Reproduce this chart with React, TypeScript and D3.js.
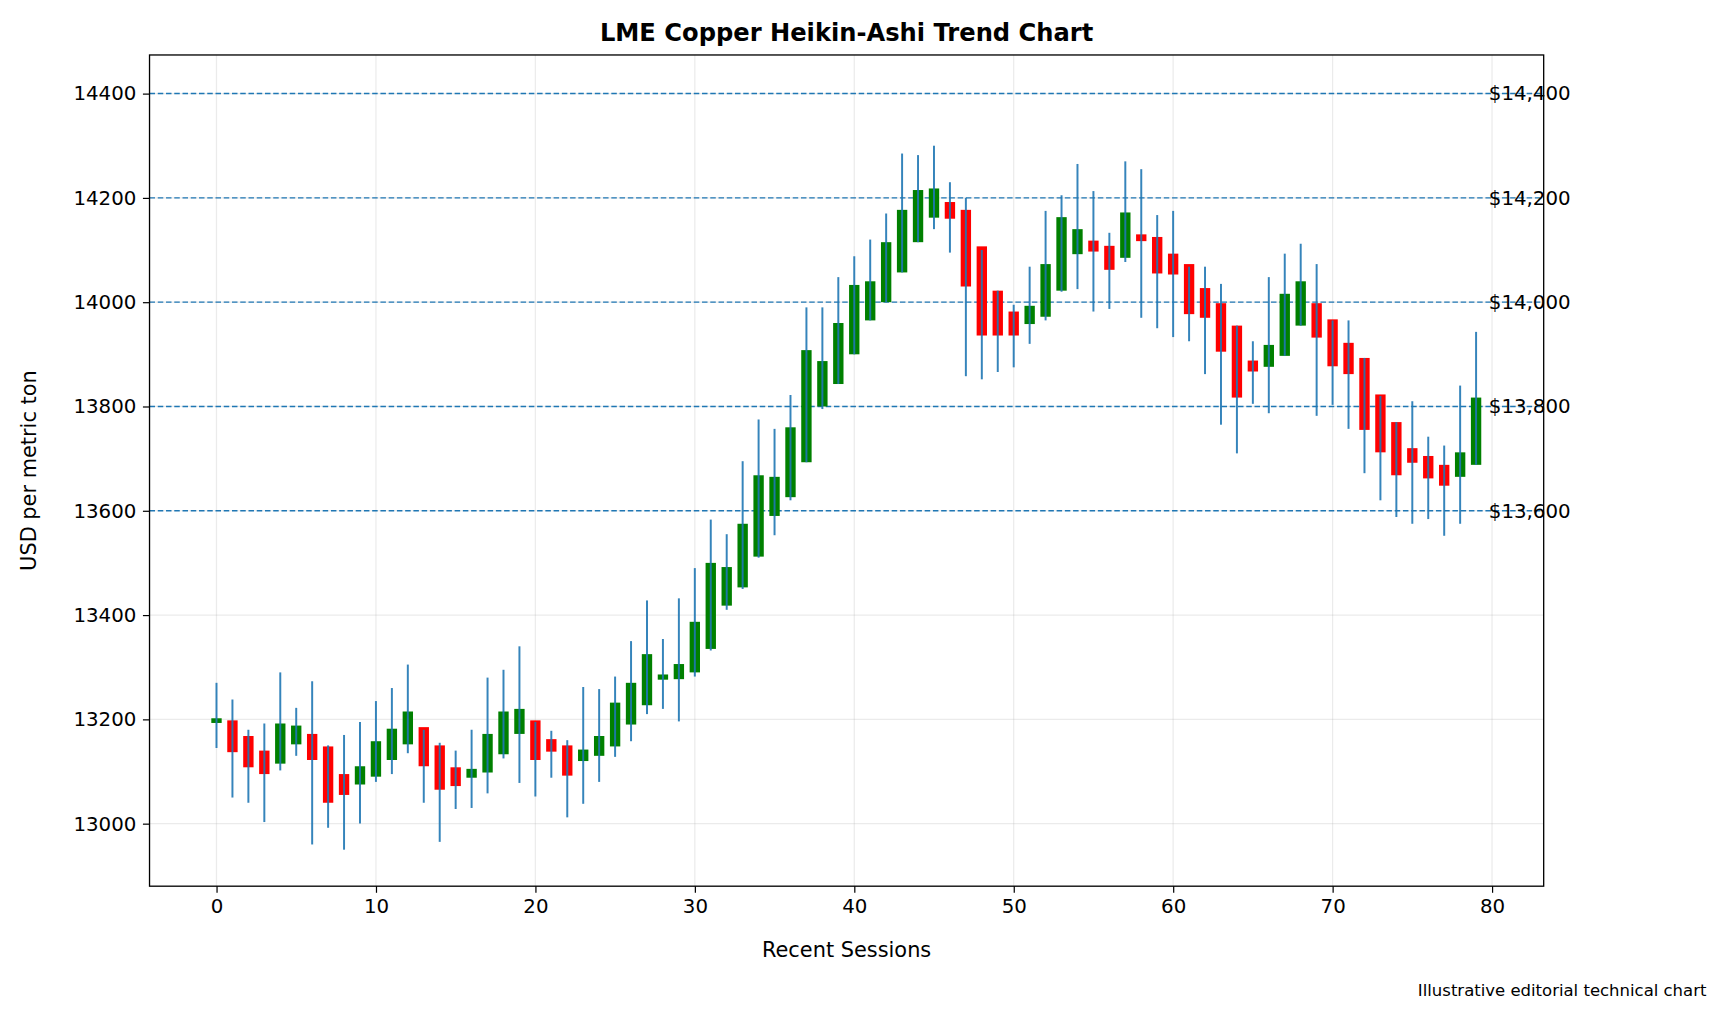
import { useEffect, useRef } from "react"
import * as d3 from "d3"

// Heikin-Ashi candles: open, close, high, low per session
const opens = [13193, 13198, 13168, 13140, 13115, 13152, 13172, 13148, 13095, 13075, 13090, 13122, 13152, 13185, 13150, 13108, 13088, 13098, 13133, 13172, 13198, 13162, 13150, 13120, 13130, 13148, 13190, 13227, 13276, 13277, 13290, 13335, 13418, 13453, 13512, 13590, 13626, 13693, 13800, 13843, 13900, 13965, 14000, 14057, 14115, 14162, 14192, 14177, 14107, 14022, 13982, 13958, 13972, 14022, 14092, 14118, 14108, 14085, 14130, 14125, 14093, 14073, 14027, 13998, 13955, 13888, 13876, 13897, 13955, 13998, 13967, 13922, 13893, 13823, 13770, 13720, 13705, 13688, 13665, 13688]
const closes = [13202, 13137, 13108, 13095, 13192, 13188, 13122, 13040, 13055, 13110, 13158, 13182, 13215, 13110, 13065, 13072, 13105, 13172, 13215, 13220, 13122, 13138, 13092, 13142, 13168, 13232, 13270, 13325, 13286, 13306, 13387, 13500, 13492, 13575, 13668, 13665, 13760, 13908, 13887, 13960, 14033, 14040, 14115, 14177, 14215, 14218, 14160, 14030, 13936, 13936, 13936, 13993, 14073, 14163, 14140, 14097, 14062, 14172, 14117, 14055, 14053, 13977, 13970, 13905, 13817, 13867, 13918, 14016, 14040, 13932, 13877, 13862, 13755, 13712, 13668, 13692, 13662, 13648, 13712, 13817]
const highs = [13270, 13238, 13180, 13192, 13290, 13222, 13273, 13150, 13170, 13195, 13235, 13260, 13305, 13180, 13155, 13140, 13180, 13280, 13295, 13340, 13195, 13178, 13160, 13262, 13258, 13282, 13350, 13428, 13354, 13432, 13490, 13583, 13555, 13695, 13775, 13757, 13822, 13990, 13990, 14048, 14088, 14120, 14170, 14285, 14282, 14300, 14230, 14200, 14100, 14022, 13995, 14068, 14175, 14205, 14265, 14213, 14133, 14270, 14255, 14167, 14175, 14068, 14068, 14035, 13955, 13925, 14048, 14093, 14112, 14073, 13965, 13965, 13893, 13820, 13770, 13810, 13742, 13725, 13840, 13943]
const lows = [13145, 13050, 13040, 13003, 13102, 13130, 12960, 12992, 12950, 13000, 13080, 13095, 13135, 13040, 12965, 13028, 13030, 13058, 13125, 13078, 13052, 13088, 13012, 13038, 13080, 13128, 13158, 13210, 13220, 13196, 13282, 13332, 13410, 13450, 13510, 13553, 13620, 13693, 13795, 13843, 13900, 13965, 14000, 14057, 14115, 14140, 14095, 13858, 13852, 13866, 13875, 13920, 13965, 14020, 14025, 13982, 13987, 14077, 13970, 13950, 13933, 13925, 13862, 13765, 13710, 13805, 13787, 13897, 13955, 13782, 13803, 13757, 13672, 13620, 13588, 13575, 13584, 13552, 13575, 13688]
const levels = [13600, 13800, 14000, 14200, 14400]
const yTicks = [13000, 13200, 13400, 13600, 13800, 14000, 14200, 14400]
const xTicks = [0, 10, 20, 30, 40, 50, 60, 70, 80]

export default function App() {
  const svgRef = useRef<SVGSVGElement>(null)

  useEffect(() => {
    if (!svgRef.current) return
    const W = 1724, H = 1017
    // layout worked out on a 1568-wide copy, then scaled up
    const S = 1724 / 1568
    const w = 1568, h = H / S
    const margin = { top: 50, right: w - 1404, bottom: h - 806, left: 136 }
    const svg = d3.select(svgRef.current).attr("width", W).attr("height", H)
    svg.selectAll("*").remove()
    const font = "DejaVu Sans, sans-serif"

    const x = d3.scaleLinear().domain([-4.2, 83.24]).range([margin.left, w - margin.right])
    const y = d3.scaleLinear().domain([12880, 14474]).range([h - margin.bottom, margin.top])

    const root = svg.append("g").attr("transform", `scale(${S})`)
    const g = root.append("g")

    // grid
    g.selectAll("line.gx").data(xTicks).enter().append("line")
      .attr("x1", d => x(d)).attr("x2", d => x(d))
      .attr("y1", margin.top).attr("y2", h - margin.bottom)
      .attr("stroke", "#b0b0b0").attr("stroke-opacity", 0.25).attr("stroke-width", 1.1)
    g.selectAll("line.gy").data(yTicks).enter().append("line")
      .attr("y1", d => y(d)).attr("y2", d => y(d))
      .attr("x1", margin.left).attr("x2", w - margin.right)
      .attr("stroke", "#b0b0b0").attr("stroke-opacity", 0.25).attr("stroke-width", 1.1)

    // level lines
    g.selectAll("line.lvl").data(levels).enter().append("line")
      .attr("y1", d => y(d)).attr("y2", d => y(d))
      .attr("x1", margin.left).attr("x2", w - margin.right)
      .attr("stroke", "#1f77b4").attr("stroke-width", 1.3).attr("stroke-dasharray", "5,2.5")

    const idx = d3.range(opens.length)
    const bw = (x(1) - x(0)) * 0.65

    // bodies
    g.selectAll("rect.body").data(idx).enter().append("rect")
      .attr("x", i => x(i) - bw / 2)
      .attr("y", i => y(Math.max(opens[i], closes[i])))
      .attr("width", bw)
      .attr("height", i => Math.max(1, Math.abs(y(opens[i]) - y(closes[i]))))
      .attr("fill", i => closes[i] >= opens[i] ? "green" : "red")

    // wicks
    g.selectAll("line.wick").data(idx).enter().append("line")
      .attr("x1", i => x(i)).attr("x2", i => x(i))
      .attr("y1", i => y(highs[i])).attr("y2", i => y(lows[i]))
      .attr("stroke", "#1f77b4").attr("stroke-width", 1.8).attr("stroke-opacity", 0.9)

    // level labels
    g.selectAll("text.lvl").data(levels).enter().append("text")
      .attr("x", x(79.8)).attr("y", d => y(d)).attr("dy", "0.35em")
      .attr("font-family", font).attr("font-size", 18).text(d => "$" + d3.format(",")(d))

    // frame
    g.append("rect").attr("x", margin.left).attr("y", margin.top)
      .attr("width", w - margin.right - margin.left).attr("height", h - margin.bottom - margin.top)
      .attr("fill", "none").attr("stroke", "black").attr("stroke-width", 1.2)

    const xa = g.append("g").attr("transform", `translate(0,${h - margin.bottom})`)
      .call(d3.axisBottom(x).tickValues(xTicks).tickSize(6).tickPadding(6))
    const ya = g.append("g").attr("transform", `translate(${margin.left},0)`)
      .call(d3.axisLeft(y).tickValues(yTicks).tickFormat(d3.format("d")).tickSize(6).tickPadding(6))
    ;[xa, ya].forEach(a => {
      a.select(".domain").remove()
      a.selectAll("text").attr("font-family", font).attr("font-size", 18).attr("fill", "black")
      a.selectAll("line").attr("stroke", "black").attr("stroke-width", 1.1)
    })

    root.append("text").attr("x", (margin.left + w - margin.right) / 2).attr("y", 37)
      .attr("text-anchor", "middle").attr("font-family", font).attr("font-size", 22).attr("font-weight", "bold")
      .text("LME Copper Heikin-Ashi Trend Chart")
    root.append("text").attr("x", (margin.left + w - margin.right) / 2).attr("y", 870)
      .attr("text-anchor", "middle").attr("font-family", font).attr("font-size", 19)
      .text("Recent Sessions")
    root.append("text").attr("transform", `translate(33,${(margin.top + h - margin.bottom) / 2}) rotate(-90)`)
      .attr("text-anchor", "middle").attr("font-family", font).attr("font-size", 19)
      .text("USD per metric ton")
    root.append("text").attr("x", 1552).attr("y", 906).attr("text-anchor", "end")
      .attr("font-family", font).attr("font-size", 15).text("Illustrative editorial technical chart")
  }, [])

  return <svg ref={svgRef} style={{ position: "absolute", left: 0, top: 0, background: "white" }} />
}
